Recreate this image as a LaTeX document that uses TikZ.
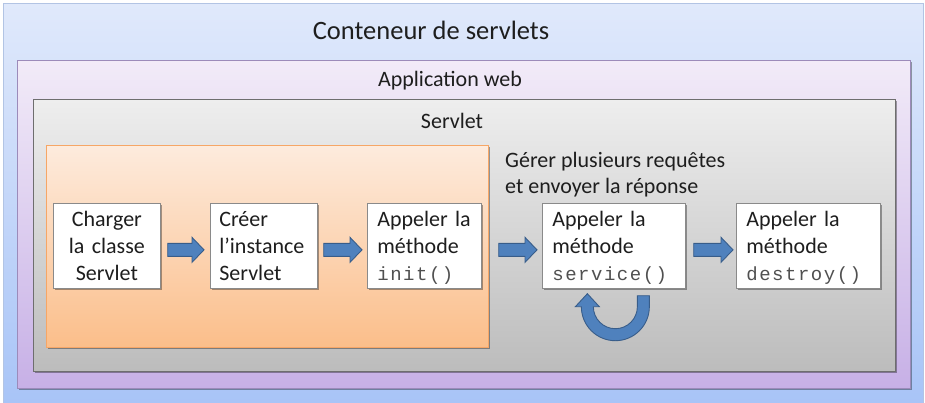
\documentclass[tikz,border=0pt]{standalone}
\usepackage{fontspec}
\setmainfont{Carlito}
\newfontfamily\monof[LetterSpace=8]{Liberation Mono}
\usetikzlibrary{shadows,calc}
\definecolor{outertop}{HTML}{E0E9FB}
\definecolor{outerbot}{HTML}{A8C4F7}
\definecolor{outerline}{HTML}{B2C4E4}
\definecolor{purtop}{HTML}{F2EBF8}
\definecolor{purbot}{HTML}{C7B0E6}
\definecolor{purline}{HTML}{9C8BBA}
\definecolor{graytop}{HTML}{EEEEEE}
\definecolor{graybot}{HTML}{BCBCBC}
\definecolor{grayline}{HTML}{6E6E6E}
\definecolor{oratop}{HTML}{FDEBDD}
\definecolor{orabot}{HTML}{FBBE8A}
\definecolor{oraline}{HTML}{F6A666}
\definecolor{boxline}{HTML}{8A8A8A}
\definecolor{arrfill}{HTML}{4F81BD}
\definecolor{arrline}{HTML}{385D8A}
\definecolor{txt}{HTML}{1E1E1E}
\definecolor{monogray}{HTML}{505050}
\newcommand\fstrut{\rule{0pt}{21pt}}
\newcommand\lstrut{\rule[-6pt]{0pt}{6pt}}
\newcommand\mono[1]{\textcolor{monogray}{\monof\fontsize{19}{27}\selectfont #1}}
\tikzset{
  container/.style={anchor=north west, inner sep=0pt, line width=0.8pt},
  shad/.style={drop shadow={shadow xshift=1.5pt, shadow yshift=-1.5pt, opacity=0.35, fill=black}},
  stepbox/.style={anchor=north west, draw=boxline, fill=white, line width=0.7pt,
    inner xsep=10pt, inner ysep=2pt, minimum height=85pt, align=left,
    font=\fontsize{22}{27}\selectfont, text=txt},
  barrow/.style={draw=arrline, fill=arrfill, line width=0.9pt,
    to path={let \p1=(\tikztostart), \p2=(\tikztotarget) in
      (\x1,\y1+6.5pt) -- (\x2-12pt,\y1+6.5pt) -- (\x2-12pt,\y1+12.5pt) -- (\x2,\y1)
      -- (\x2-12pt,\y1-12.5pt) -- (\x2-12pt,\y1-6.5pt) -- (\x1,\y1-6.5pt) -- cycle}},
  ttl/.style={text=txt, inner sep=0pt}
}
\begin{document}
\begin{tikzpicture}[x=1pt,y=-1pt]
\useasboundingbox (0,0) rectangle (925,402);
\fill[white] (0,0) rectangle (925,402);
% containers
\node[container, draw=outerline, top color=outertop, bottom color=outerbot,
  minimum width=920pt, minimum height=400pt] (conteneur) at (3,3) {};
\node[container, shad, draw=purline, top color=purtop, bottom color=purbot,
  minimum width=893pt, minimum height=328pt] (appweb) at (17,60) {};
\node[container, shad, draw=grayline, top color=graytop, bottom color=graybot,
  minimum width=862pt, minimum height=272pt] (servlet) at (33,99) {};
\node[container, shad, draw=oraline, top color=oratop, bottom color=orabot,
  minimum width=442pt, minimum height=202pt] (init) at (46,145) {};
% titles
\node[ttl, anchor=base, font=\fontsize{26.5}{30}\selectfont] (t1) at (431,39) {Conteneur de servlets};
\node[ttl, anchor=base, font=\fontsize{22}{26}\selectfont] (t2) at (450,86) {Application web};
\node[ttl, anchor=base, font=\fontsize{22}{26}\selectfont] (t3) at (452,128) {Servlet};
\node[ttl, anchor=north west, align=left, font=\fontsize{22}{26}\selectfont] (t4) at (505,146)
  {\fstrut Gérer plusieurs requêtes\\et envoyer la réponse};
% steps
\node[stepbox, shad, text width=87pt, align=center] (b1) at (53,203)
  {\fstrut Charger\\la classe\\Servlet\lstrut};
\node[stepbox, shad, inner xsep=9pt, text width=89pt] (b2) at (210,203)
  {\fstrut Créer\\l’instance\\Servlet\lstrut};
\node[stepbox, shad, text width=94pt] (b3) at (367,203)
  {\fstrut Appeler la\\méthode\\\mono{init()}\lstrut};
\node[stepbox, shad, text width=123pt] (b4) at (542,203)
  {\fstrut Appeler la\\méthode\\\mono{service()}\lstrut};
\node[stepbox, shad, text width=124pt] (b5) at (736,203)
  {\fstrut Appeler la\\méthode\\\mono{destroy()}\lstrut};
% block arrows
\draw[barrow] ([xshift=7pt,yshift=-4pt]b1.east) to ([xshift=-6pt,yshift=-4pt]b2.west);
\draw[barrow] ([xshift=6pt,yshift=-4pt]b2.east) to ([xshift=-5pt,yshift=-4pt]b3.west);
\draw[barrow] ([xshift=17pt,yshift=-4pt]b3.east) to ([xshift=-5pt,yshift=-4pt]b4.west);
\draw[barrow] ([xshift=8pt,yshift=-4pt]b4.east) to ([xshift=-3pt,yshift=-4pt]b5.west);
% loop arrow
\coordinate (u) at ([xshift=1.5pt,yshift=-18pt]b4.south);
\draw[draw=arrline, fill=arrfill, line width=0.9pt]
  ($(u)+(34,-11)$) -- ($(u)+(34,0)$) arc[start angle=0, end angle=180, radius=34]
  -- ($(u)+(-40,0)$) -- ($(u)+(-28,-13)$) -- ($(u)+(-16,0)$) -- ($(u)+(-22,0)$)
  arc[start angle=180, end angle=0, radius=22] -- ($(u)+(22,-11)$) -- cycle;
\end{tikzpicture}
\end{document}
